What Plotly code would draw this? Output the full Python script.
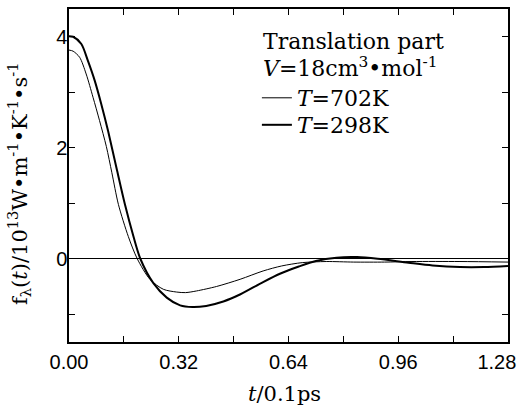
import plotly.graph_objects as go

# ---- data ----
t_702 = [0.000, 0.012, 0.031, 0.050, 0.070, 0.089, 0.109, 0.125, 0.144, 0.173, 0.199,
         0.236, 0.275, 0.314, 0.340, 0.372, 0.430, 0.499, 0.566, 0.620, 0.680, 0.750,
         0.830, 0.920, 1.000, 1.140, 1.280]
f_702 = [3.76, 3.74, 3.63, 3.33, 2.91, 2.49, 2.02, 1.55, 0.98, 0.40, 0.00,
         -0.37, -0.55, -0.60, -0.61, -0.58, -0.50, -0.37, -0.22, -0.13, -0.07, -0.05,
         -0.06, -0.06, -0.05, -0.05, -0.06]

t_298 = [0.000, 0.012, 0.036, 0.055, 0.075, 0.094, 0.114, 0.139, 0.163, 0.188, 0.208,
         0.246, 0.285, 0.324, 0.360, 0.400, 0.450, 0.500, 0.566, 0.615, 0.670, 0.720,
         0.780, 0.840, 0.900, 0.990, 1.060, 1.140, 1.210, 1.280]
f_298 = [4.01, 4.00, 3.87, 3.57, 3.21, 2.79, 2.30, 1.62, 0.98, 0.40, 0.00,
         -0.44, -0.70, -0.84, -0.87, -0.85, -0.77, -0.64, -0.42, -0.27, -0.14, -0.04,
         0.02, 0.03, 0.00, -0.07, -0.12, -0.15, -0.15, -0.13]

x_tickvals = [0.00, 0.16, 0.32, 0.48, 0.64, 0.80, 0.96, 1.12, 1.28]
x_ticktext = ["0.00", "", "0.32", "", "0.64", "", "0.96", "",
              "1.28<span style='color:rgba(0,0,0,0)'>00</span>"]
y_tickvals = [-1, 0, 1, 2, 3, 4]
y_ticktext = ["", "0", "", "2", "", "4"]

label_702 = "<i>T</i>=702K"
label_298 = "<i>T</i>=298K"
header_1 = "Translation part"
header_2 = "<i>V</i>=18cm<sup>3</sup>•mol<sup>-1</sup>"
y_title = "f<sub>λ</sub>(<i>t</i>)/10<sup>13</sup>W•m<sup>-1</sup>•K<sup>-1</sup>•s<sup>-1</sup>"
x_title = "<i>t</i>/0.1ps"

SERIF = "DejaVu Serif"
SANS = "Liberation Sans"
TXT = 22

fig = go.Figure()
fig.add_trace(go.Scatter(x=t_702, y=f_702, mode="lines", name=label_702, legend="legend",
                         line=dict(color="black", width=1, shape="spline", smoothing=0.8)))
fig.add_trace(go.Scatter(x=t_298, y=f_298, mode="lines", name=label_298, legend="legend2",
                         line=dict(color="black", width=2, shape="spline", smoothing=0.8)))

axis_common = dict(showline=True, linecolor="black", linewidth=1.5, mirror="ticks",
                   ticks="inside", ticklen=6, tickwidth=1.2, tickcolor="black",
                   showgrid=False, automargin=False,
                   tickfont=dict(family=SANS, size=20, color="black"))

fig.update_xaxes(range=[0, 1.28], tickvals=x_tickvals, ticktext=x_ticktext,
                 zeroline=False, ticklabelstandoff=1, ticklabeloverflow="allow", **axis_common)
fig.update_yaxes(range=[-1.5, 4.5], tickvals=y_tickvals, ticktext=y_ticktext,
                 zeroline=True, zerolinecolor="black", zerolinewidth=1,
                 ticklabelstandoff=-4, ticklabeloverflow="allow", **axis_common)


def py(px):
    return (342 - px) / 333


legend_style = dict(xanchor="left", yanchor="middle", bgcolor="rgba(0,0,0,0)",
                    font=dict(family=SERIF, size=TXT, color="black"), itemwidth=30)

fig.update_layout(
    width=517, height=408,
    margin=dict(l=69, r=9, t=9, b=66),
    paper_bgcolor="white", plot_bgcolor="white",
    showlegend=True,
    legend=dict(x=0.428, y=py(98), **legend_style),
    legend2=dict(x=0.428, y=py(125), **legend_style),
    annotations=[
        dict(text=header_1, x=0.438, y=py(41), xref="paper", yref="paper",
             xanchor="left", yanchor="middle", showarrow=False,
             font=dict(family=SERIF, size=TXT, color="black")),
        dict(text=header_2, x=0.438, y=py(67), xref="paper", yref="paper",
             xanchor="left", yanchor="middle", showarrow=False,
             font=dict(family=SERIF, size=TXT, color="black")),
        dict(text=x_title, x=0.49, y=py(394), xref="paper", yref="paper",
             xanchor="center", yanchor="middle", showarrow=False,
             font=dict(family=SERIF, size=21, color="black")),
        dict(text=y_title, x=(19 - 69) / 439, y=py(184), xref="paper", yref="paper",
             xanchor="center", yanchor="middle", showarrow=False, textangle=-90,
             font=dict(family=SERIF, size=21, color="black")),
    ],
)

fig.write_html("out.html")
